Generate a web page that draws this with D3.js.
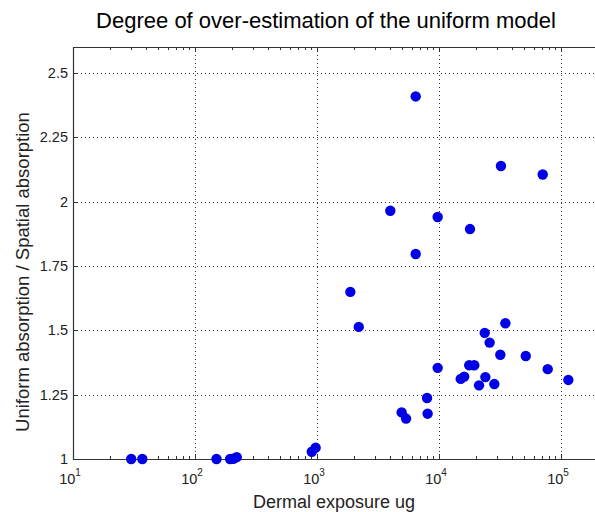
<!DOCTYPE html>
<html>
<head>
<meta charset="utf-8">
<script src="https://cdn.jsdelivr.net/npm/d3@7"></script>
<style>
  body { margin: 0; background: #fff; }
  svg { display: block; font-family: "Liberation Sans", Arial, sans-serif; }
</style>
</head>
<body>
<svg id="chart"></svg>
<script>
// data
const exposure = [30, 37, 150, 194, 206, 220, 906, 975,
  1876, 2200, 3990, 4940, 5370, 6440, 6440, 7980, 8070, 9750, 9750,
  15070, 16100, 17700, 17950, 19460, 21300, 23700, 23990, 26000, 28400,
  31800, 32200, 35000, 51400, 70800, 77800, 114800];
const ratio = [1, 1, 1, 1, 1.001, 1.007, 1.028, 1.044,
  1.649, 1.513, 1.964, 1.181, 1.157, 2.408, 1.796, 1.237, 1.176, 1.94, 1.354,
  1.311, 1.32, 1.364, 1.893, 1.364, 1.286, 1.49, 1.318, 1.452, 1.291,
  1.405, 2.138, 1.527, 1.4, 2.105, 1.349, 1.307];
const yTicks = [1, 1.25, 1.5, 1.75, 2, 2.25, 2.5];
const yLabels = ["1", "1.25", "1.5", "1.75", "2", "2.25", "2.5"];
const xDecades = [1, 2, 3, 4, 5];

const width = 595, height = 512;
const padLeft = 73, padTop = 47, padBottom = 459;

const svg = d3.select("#chart").attr("width", width).attr("height", height);

const x = d3.scaleLog().domain([10, Math.pow(10, 5.35)]).range([padLeft, padLeft + 4.35 * 122]);
const y = d3.scaleLinear().domain([1, 2.6]).range([padBottom, padTop]);
const padRight = x.range()[1];

// grid
const grid = svg.append("g").attr("stroke", "#333").attr("stroke-width", 1)
  .attr("stroke-dasharray", "1,3");
grid.selectAll(".gx").data(xDecades.slice(1)).enter().append("line")
  .attr("x1", d => Math.round(x(Math.pow(10, d))) + 0.5)
  .attr("x2", d => Math.round(x(Math.pow(10, d))) + 0.5)
  .attr("y1", padTop).attr("y2", padBottom);
grid.selectAll(".gy").data(yTicks.slice(1)).enter().append("line")
  .attr("y1", d => Math.round(y(d)) + 0.5)
  .attr("y2", d => Math.round(y(d)) + 0.5)
  .attr("x1", padLeft).attr("x2", padRight);

// ticks (inside, bottom and top)
const minor = [];
for (let e = 1; e <= 5; e++) for (let m = 2; m <= 9; m++) minor.push(m * Math.pow(10, e));
const tk = svg.append("g").attr("stroke", "#333").attr("stroke-width", 1);
[padBottom, padTop].forEach(function(yy) {
  const dir = yy === padBottom ? -1 : 1;
  tk.selectAll(null).data(minor.filter(v => x(v) < width)).enter().append("line")
    .attr("x1", d => Math.round(x(d)) + 0.5).attr("x2", d => Math.round(x(d)) + 0.5)
    .attr("y1", yy).attr("y2", yy + dir * 3);
  tk.selectAll(null).data(xDecades).enter().append("line")
    .attr("x1", d => Math.round(x(Math.pow(10, d))) + 0.5).attr("x2", d => Math.round(x(Math.pow(10, d))) + 0.5)
    .attr("y1", yy).attr("y2", yy + dir * 5);
});
tk.selectAll(null).data(yTicks).enter().append("line")
  .attr("x1", padLeft).attr("x2", padLeft + 5)
  .attr("y1", d => Math.round(y(d)) + 0.5).attr("y2", d => Math.round(y(d)) + 0.5);

// axes box
svg.append("path")
  .attr("d", `M${padRight},${padTop + 0.5}H${padLeft + 0.5}V${padBottom + 0.5}H${padRight}`)
  .attr("fill", "none").attr("stroke", "#333").attr("stroke-width", 1.2);

// points
svg.selectAll("circle").data(exposure).enter().append("circle")
  .attr("cx", d => x(d))
  .attr("cy", (d, i) => y(ratio[i]))
  .attr("r", 5.2)
  .attr("fill", "#0000e6");

// tick labels
svg.selectAll(".yl").data(yTicks).enter().append("text")
  .attr("x", padLeft - 5).attr("y", d => y(d) + 5)
  .attr("text-anchor", "end").attr("font-size", "14.5px").attr("fill", "#222")
  .text((d, i) => yLabels[i]);
const xl = svg.selectAll(".xl").data(xDecades).enter().append("text")
  .attr("x", d => x(Math.pow(10, d)) - 3).attr("y", 484)
  .attr("text-anchor", "middle").attr("font-size", "14.5px").attr("fill", "#222");
xl.append("tspan").text("10");
xl.append("tspan").attr("dy", -8).attr("font-size", "10px").text(d => d);

// titles
svg.append("text").attr("x", 326).attr("y", 28).attr("text-anchor", "middle")
  .attr("font-size", "22px").attr("fill", "#000")
  .text("Degree of over-estimation of the uniform model");
svg.append("text").attr("x", 334).attr("y", 508).attr("text-anchor", "middle")
  .attr("font-size", "18px").attr("fill", "#222").text("Dermal exposure ug");
svg.append("text").attr("transform", "translate(29,272) rotate(-90)")
  .attr("text-anchor", "middle").attr("font-size", "18.5px").attr("fill", "#222")
  .text("Uniform absorption / Spatial absorption");
</script>
</body>
</html>
